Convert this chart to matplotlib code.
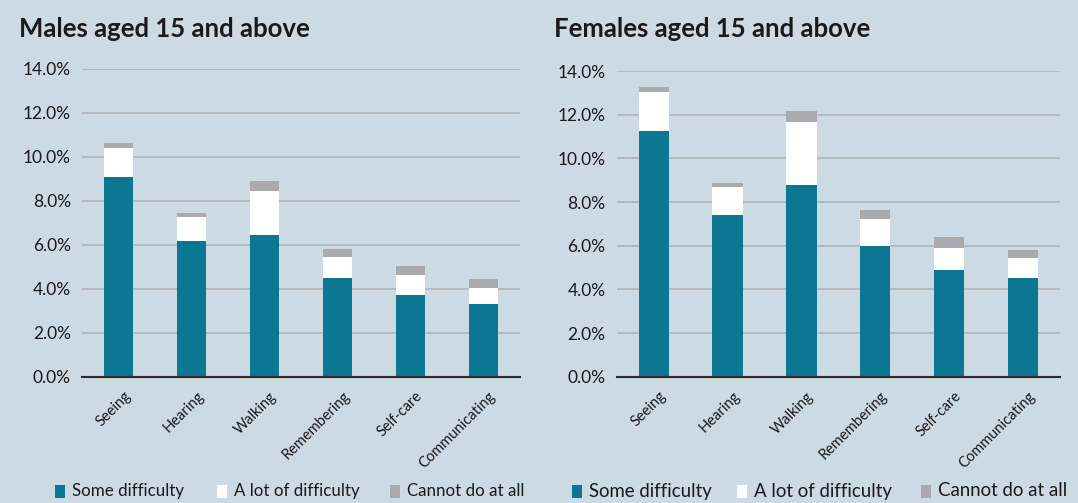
import numpy as np
import matplotlib
matplotlib.use("Agg")
import matplotlib.pyplot as plt
from matplotlib.patches import Rectangle
from matplotlib.ticker import FuncFormatter
from matplotlib.transforms import ScaledTranslation

plt.rcParams['font.family'] = ['Lato', 'DejaVu Sans']

#---------Data------------------------
categories = ['Seeing', 'Hearing', 'Walking', 'Remembering', 'Self-care', 'Communicating']
series = ['Some difficulty', 'A lot of difficulty', 'Cannot do at all']

males_some = [9.06, 6.18, 6.44, 4.50, 3.73, 3.32]
males_lot = [1.33, 1.06, 1.99, 0.95, 0.88, 0.73]
males_cannot = [0.23, 0.20, 0.47, 0.35, 0.44, 0.38]

females_some = [11.24, 7.39, 8.78, 5.99, 4.89, 4.52]
females_lot = [1.82, 1.29, 2.87, 1.25, 1.02, 0.90]
females_cannot = [0.22, 0.19, 0.52, 0.38, 0.47, 0.38]

bg = '#cbdae3'
colors = ['#0b7793', '#ffffff', '#a8aaad']

fig = plt.figure(figsize=(10.78, 5.03), dpi=100, facecolor=bg)
ax_m = fig.add_axes([0.0761, 0.2511, 0.4063, 0.6123])
ax_f = fig.add_axes([0.5721, 0.2511, 0.4112, 0.6077])

def draw(ax, some, lot, cannot, title, title_x, fs_leg, leg_px):
    x = np.arange(len(categories))
    some = np.array(some); lot = np.array(lot); cannot = np.array(cannot)
    ax.set_facecolor(bg)
    ax.bar(x, some, width=0.41, color=colors[0], zorder=3)
    ax.bar(x, lot, bottom=some, width=0.41, color=colors[1], zorder=3)
    ax.bar(x, cannot, bottom=some + lot, width=0.41, color=colors[2], zorder=3)
    ax.set_xlim(-0.5, len(categories) - 0.5)
    ax.set_ylim(0, 14)
    ax.set_yticks(np.arange(0, 14.1, 2))
    ax.yaxis.set_major_formatter(FuncFormatter(lambda v, p: '%.1f%%' % v))
    ax.yaxis.grid(True, color='#b5babf', lw=1.4, zorder=0)
    for s in ['top', 'right', 'left']:
        ax.spines[s].set_visible(False)
    ax.spines['bottom'].set_color('#2b2b2b')
    ax.spines['bottom'].set_linewidth(1.5)
    ax.spines['bottom'].set_zorder(4)
    ax.tick_params(axis='y', length=0, pad=8, labelsize=12.5, labelcolor='#1a1a1a')
    ax.tick_params(axis='x', length=0, pad=4)
    ax.set_xticks(x)
    ax.set_xticklabels(categories, rotation=45, ha='right', rotation_mode='anchor',
                       fontsize=10.5, color='#1a1a1a')
    for lbl in ax.get_xticklabels():
        lbl.set_transform(lbl.get_transform() + ScaledTranslation(0.05, -0.07, fig.dpi_scale_trans))
    fig.text(title_x, 0.943, title, fontsize=18.5, fontweight='bold', color='#1a1a1a', va='center')
    # legend row, one entry at a time
    yc = 1 - 491 / 503.0
    for c, name, px in zip(colors, series, leg_px):
        fig.patches.append(Rectangle((px / 1078.0, yc - 6.5 / 503.0), 10 / 1078.0, 13 / 503.0,
                                     transform=fig.transFigure, facecolor=c, edgecolor='none'))
        fig.text((px + 17) / 1078.0, yc, name, fontsize=fs_leg, color='#1a1a1a', va='center')

draw(ax_m, males_some, males_lot, males_cannot, 'Males aged 15 and above', 0.018, 12.2, [55, 217, 390])
draw(ax_f, females_some, females_lot, females_cannot, 'Females aged 15 and above', 0.514, 13.4, [572, 737, 921])

fig.savefig('out.png', dpi=100, facecolor=bg)
